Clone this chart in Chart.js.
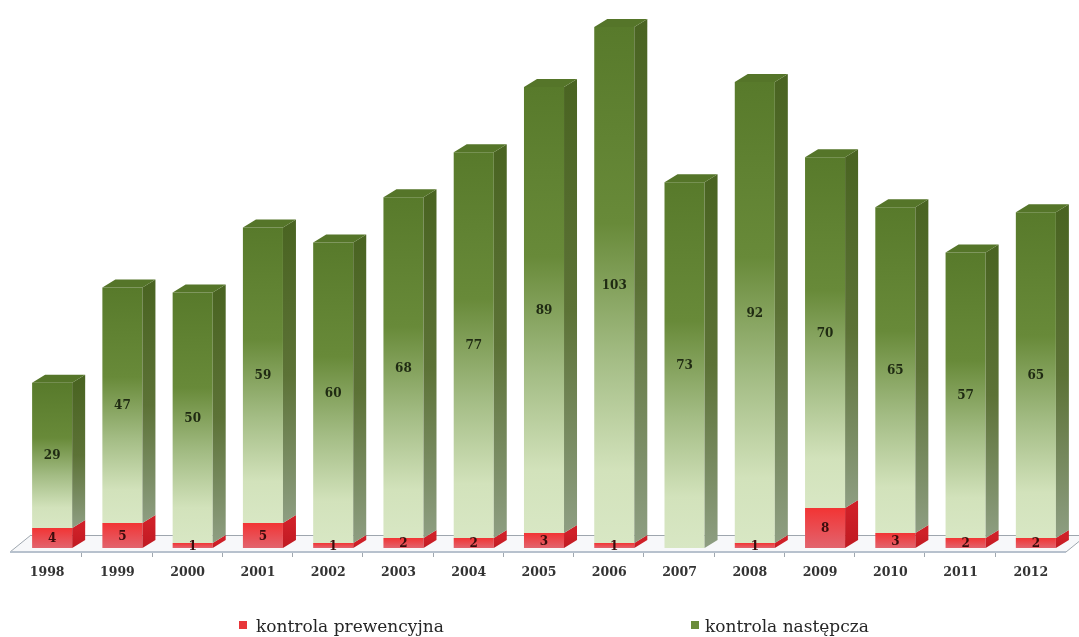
<!DOCTYPE html>
<html>
<head>
<meta charset="utf-8">
<script src="https://cdn.jsdelivr.net/npm/chart.js@4.4.1/dist/chart.umd.min.js"></script>
<style>
  html, body { margin: 0; padding: 0; background: #ffffff; }
  #wrap { width: 1079px; height: 637px; position: relative; }
</style>
</head>
<body>
<div id="wrap"><canvas id="c" width="1079" height="637"></canvas></div>
<script>
// ---- data ----
const categories = ['1998','1999','2000','2001','2002','2003','2004','2005','2006','2007','2008','2009','2010','2011','2012'];
const prewencyjna = [4, 5, 1, 5, 1, 2, 2, 3, 1, 0, 1, 8, 3, 2, 2];
const nastepcza = [29, 47, 50, 59, 60, 68, 77, 89, 103, 73, 92, 70, 65, 57, 65];
const seriesNames = ['kontrola prewencyjna', 'kontrola następcza'];
const yMax = 104;

// ---- styling ----
const DX = 13, DY = 8;

function redFront(c) {
  const chart = c.chart;
  if (!chart.chartArea || c.type !== 'data') return '#ee3333';
  const y = chart.scales.y;
  const i = c.dataIndex;
  const top = y.getPixelForValue(prewencyjna[i]);
  const bot = y.getPixelForValue(0);
  if (!(bot > top)) return '#ee3333';
  const g = chart.ctx.createLinearGradient(0, top, 0, bot);
  g.addColorStop(0, '#f23434');
  g.addColorStop(1, '#e2646e');
  return g;
}
function greenFront(c) {
  const chart = c.chart;
  if (!chart.chartArea || c.type !== 'data') return '#6a8a3a';
  const y = chart.scales.y;
  const i = c.dataIndex;
  const top = y.getPixelForValue(prewencyjna[i] + nastepcza[i]);
  const bot = y.getPixelForValue(prewencyjna[i]);
  if (!(bot > top)) return '#6a8a3a';
  const g = chart.ctx.createLinearGradient(0, top, 0, bot);
  g.addColorStop(0, '#587a2b');
  g.addColorStop(0.38, '#688a39');
  g.addColorStop(0.64, '#a3bc84');
  g.addColorStop(0.86, '#d2e2bb');
  g.addColorStop(1, '#d8e7c4');
  return g;
}

const floorPlugin = {
  id: 'floor3d',
  beforeDatasetsDraw(chart) {
    const {ctx, chartArea, scales} = chart;
    const base = scales.y.getPixelForValue(0);
    const L = chartArea.left, R = chartArea.right;
    const fy = base + 4, by = base - 13;
    ctx.save();
    ctx.beginPath();
    ctx.moveTo(L - 7, fy);
    ctx.lineTo(R - 5, fy);
    ctx.lineTo(R + 16, by);
    ctx.lineTo(L + 14, by);
    ctx.closePath();
    ctx.fillStyle = '#f7f8fa';
    ctx.fill();
    ctx.lineWidth = 1;
    ctx.strokeStyle = '#9ea6ae';
    ctx.beginPath();
    ctx.moveTo(L + 14, by + 0.5); ctx.lineTo(R + 16, by + 0.5);
    ctx.moveTo(L - 7, fy); ctx.lineTo(L + 14, by);
    ctx.moveTo(R - 5, fy); ctx.lineTo(R + 16, by);
    ctx.stroke();
    ctx.lineWidth = 2;
    ctx.strokeStyle = '#b7c1cd';
    ctx.beginPath();
    ctx.moveTo(L - 7, fy); ctx.lineTo(R - 5, fy);
    ctx.stroke();
    // tick marks
    const xs = scales.x;
    ctx.lineWidth = 1;
    ctx.strokeStyle = '#a0a8b0';
    ctx.beginPath();
    for (let i = 0; i + 1 < categories.length; i++) {
      const bx = Math.round((xs.getPixelForValue(i) + xs.getPixelForValue(i + 1)) / 2);
      ctx.moveTo(bx - 6 + 0.5, fy + 1);
      ctx.lineTo(bx - 6 + 0.5, fy + 5);
    }
    ctx.stroke();
    ctx.restore();
  }
};

const barsPlugin = {
  id: 'bars3d',
  afterDatasetsDraw(chart) {
    const {ctx} = chart;
    const m0 = chart.getDatasetMeta(0).data;
    const m1 = chart.getDatasetMeta(1).data;
    ctx.save();
    for (let i = 0; i < categories.length; i++) {
      const segs = [
        {el: m0[i], v: prewencyjna[i], side: ['#cf2028', '#c01a22'], topc: '#d9302c'},
        {el: m1[i], v: nastepcza[i], side: ['#4a6422', '#5c7236', '#8e9e82'], topc: '#557529'}
      ];
      let topSeg = null;
      segs.forEach(s => {
        if (!s.v) return;
        const p = s.el.getProps(['x', 'y', 'base', 'width'], true);
        const x2 = p.x + p.width / 2;
        const g = ctx.createLinearGradient(0, p.y, 0, p.base);
        s.side.forEach((col, k) => g.addColorStop(k / (s.side.length - 1), col));
        ctx.fillStyle = g;
        ctx.beginPath();
        ctx.moveTo(x2, p.y);
        ctx.lineTo(x2 + DX, p.y - DY);
        ctx.lineTo(x2 + DX, p.base - DY);
        ctx.lineTo(x2, p.base);
        ctx.closePath();
        ctx.fill();
        topSeg = {p, s};
      });
      if (topSeg) {
        const {p, s} = topSeg;
        const x1 = p.x - p.width / 2, x2 = p.x + p.width / 2;
        ctx.fillStyle = s.topc;
        ctx.beginPath();
        ctx.moveTo(x1, p.y);
        ctx.lineTo(x2, p.y);
        ctx.lineTo(x2 + DX, p.y - DY);
        ctx.lineTo(x1 + DX, p.y - DY);
        ctx.closePath();
        ctx.fill();
      }
      // value labels
      ctx.font = 'bold 12px "DejaVu Serif"';
      ctx.textAlign = 'center';
      ctx.textBaseline = 'middle';
      segs.forEach((s, k) => {
        if (!s.v) return;
        const p = s.el.getProps(['x', 'y', 'base'], true);
        ctx.fillStyle = k === 0 ? '#3a0c0c' : '#1f2a12';
        ctx.fillText(String(s.v), p.x, (p.y + p.base) / 2 + 1);
      });
    }
    ctx.restore();
  },
  afterDraw(chart) {
    const {ctx} = chart;
    ctx.save();
    const items = [
      {x: 239, tx: 256, color: '#e8363a', label: seriesNames[0]},
      {x: 691, tx: 705, color: '#6a8c3a', label: seriesNames[1]}
    ];
    ctx.font = '17px "DejaVu Serif"';
    ctx.textBaseline = 'alphabetic';
    ctx.textAlign = 'left';
    items.forEach(it => {
      ctx.fillStyle = it.color;
      ctx.fillRect(it.x, 621, 8, 8);
      ctx.fillStyle = '#262626';
      ctx.fillText(it.label, it.tx, 632);
    });
    ctx.restore();
  }
};

new Chart(document.getElementById('c'), {
  type: 'bar',
  data: {
    labels: categories,
    datasets: [
      {label: seriesNames[0], data: prewencyjna, backgroundColor: redFront, borderWidth: 0, stack: 's'},
      {label: seriesNames[1], data: nastepcza, backgroundColor: greenFront, borderWidth: 0, stack: 's'}
    ]
  },
  options: {
    responsive: false,
    animation: false,
    devicePixelRatio: 1,
    layout: {padding: {left: 17, right: 8, top: 27, bottom: 40}},
    datasets: {bar: {barPercentage: 0.57, categoryPercentage: 1.0}},
    plugins: {legend: {display: false}, tooltip: {enabled: false}},
    scales: {
      x: {
        stacked: true,
        grid: {display: false, drawTicks: false},
        border: {display: false},
        ticks: {
          padding: 17,
          labelOffset: -5,
          color: '#333333',
          font: {family: '"DejaVu Serif"', size: 12.5, weight: 'bold'}
        }
      },
      y: {
        stacked: true,
        display: false,
        min: 0,
        max: yMax
      }
    }
  },
  plugins: [floorPlugin, barsPlugin]
});
</script>
</body>
</html>
